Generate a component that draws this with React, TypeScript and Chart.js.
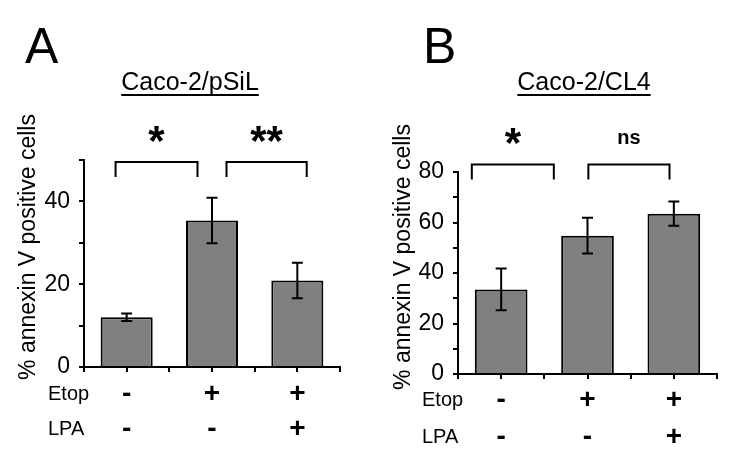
import React, { useEffect, useRef } from 'react';
import { Chart, registerables } from 'chart.js';

Chart.register(...registerables);

const FONT = '"Liberation Sans", Arial, Helvetica, sans-serif';

// ---- data ----
const categoryIndex = [0, 1, 2];
const etopLabels = ['-', '+', '+'];
const lpaLabels = ['-', '-', '+'];
const rowNames = ['Etop', 'LPA'];

const valuesA = [12.0, 35.4, 20.9];
const errorsA = [0.9, 5.5, 4.3];
const valuesB = [33.5, 54.8, 63.5];
const errorsB = [8.3, 7.1, 4.8];

const yMaxA = 50;
const yMaxB = 80;
const yLabelStep = 20;
const yMinorStep = 10;

const bracketFromA = [-0.13, 1.17];
const bracketToA = [0.83, 2.11];
const bracketMarksA = ['*', '**'];
const bracketLevelA = 49.5;

const bracketFromB = [-0.34, 1.01];
const bracketToB = [0.61, 1.95];
const bracketMarksB = ['*', 'ns'];
const bracketLevelB = 83.0;

const yTitle = '% annexin V positive cells';

type PanelSpec = {
  letter: string;
  letterX: number;
  title: string;
  titleCX: number;
  values: number[];
  errors: number[];
  yMax: number;
  padTop: number;
  padRight: number;
  yWidth: number;
  xHeight: number;
  tickPad: number;
  lineHeight: number;
  bracketFrom: number[];
  bracketTo: number[];
  bracketMarks: string[];
  bracketLevel: number;
  yTitleCX: number;
  yTitleCY: number;
  rowLabelX: number;
};

const panels: PanelSpec[] = [
  {
    letter: 'A', letterX: 25, title: 'Caco-2/pSiL', titleCX: 190,
    values: valuesA, errors: errorsA, yMax: yMaxA,
    padTop: 160, padRight: 35, yWidth: 84, xHeight: 108,
    tickPad: 5, lineHeight: 35 / 28,
    bracketFrom: bracketFromA, bracketTo: bracketToA, bracketMarks: bracketMarksA, bracketLevel: bracketLevelA,
    yTitleCX: 29, yTitleCY: 247, rowLabelX: 48,
  },
  {
    letter: 'B', letterX: 48, title: 'Caco-2/CL4', titleCX: 209,
    values: valuesB, errors: errorsB, yMax: yMaxB,
    padTop: 172, padRight: 33, yWidth: 83, xHeight: 101,
    tickPad: 3, lineHeight: 37 / 28,
    bracketFrom: bracketFromB, bracketTo: bracketToB, bracketMarks: bracketMarksB, bracketLevel: bracketLevelB,
    yTitleCX: 29, yTitleCY: 257, rowLabelX: 47,
  },
];

function makePlugin(spec: PanelSpec) {
  return {
    id: 'annot' + spec.letter,
    afterDatasetsDraw(chart: any) {
      const ctx = chart.ctx;
      const xs = chart.scales.x;
      const ys = chart.scales.y;
      ctx.save();
      ctx.strokeStyle = '#000';
      ctx.lineWidth = 2;
      spec.values.forEach((v, i) => {
        const px = xs.getPixelForValue(categoryIndex[i]);
        const top = ys.getPixelForValue(v + spec.errors[i]);
        const bot = ys.getPixelForValue(v - spec.errors[i]);
        ctx.beginPath();
        ctx.moveTo(px, top);
        ctx.lineTo(px, bot);
        ctx.moveTo(px - 5.5, top);
        ctx.lineTo(px + 5.5, top);
        ctx.moveTo(px - 5.5, bot);
        ctx.lineTo(px + 5.5, bot);
        ctx.stroke();
      });
      ctx.restore();
    },
    afterDraw(chart: any) {
      const ctx = chart.ctx;
      const xs = chart.scales.x;
      const ys = chart.scales.y;
      const area = chart.chartArea;
      ctx.save();
      ctx.fillStyle = '#000';
      ctx.strokeStyle = '#000';

      // panel letter
      ctx.font = `50px ${FONT}`;
      ctx.textAlign = 'left';
      ctx.textBaseline = 'alphabetic';
      ctx.fillText(spec.letter, spec.letterX, 63);

      // title, underlined
      ctx.font = `25px ${FONT}`;
      ctx.textAlign = 'center';
      ctx.fillText(spec.title, spec.titleCX, 90);
      const tw = ctx.measureText(spec.title).width;
      ctx.lineWidth = 2;
      ctx.beginPath();
      ctx.moveTo(spec.titleCX - tw / 2, 95);
      ctx.lineTo(spec.titleCX + tw / 2, 95);
      ctx.stroke();

      // y title
      ctx.save();
      ctx.translate(spec.yTitleCX, spec.yTitleCY);
      ctx.rotate(-Math.PI / 2);
      ctx.font = `23px ${FONT}`;
      ctx.textAlign = 'center';
      ctx.textBaseline = 'middle';
      ctx.fillText(yTitle, 0, 0);
      ctx.restore();

      // row names
      const lh = 28 * spec.lineHeight;
      ctx.font = `20px ${FONT}`;
      ctx.textAlign = 'left';
      ctx.textBaseline = 'middle';
      rowNames.forEach((name, r) => {
        const yy = area.bottom + 5 + spec.tickPad + lh / 2 + r * lh;
        ctx.fillText(name, spec.rowLabelX, yy);
      });

      // brackets
      const step = xs.getPixelForValue(1) - xs.getPixelForValue(0);
      const x0 = xs.getPixelForValue(0);
      const by = ys.getPixelForValue(spec.bracketLevel);
      ctx.lineWidth = 2;
      spec.bracketFrom.forEach((f, i) => {
        const xa = x0 + f * step;
        const xb = x0 + spec.bracketTo[i] * step;
        ctx.beginPath();
        ctx.moveTo(xa, by + 15);
        ctx.lineTo(xa, by);
        ctx.lineTo(xb, by);
        ctx.lineTo(xb, by + 15);
        ctx.stroke();
        const mark = spec.bracketMarks[i];
        const isStar = mark.indexOf('*') >= 0;
        ctx.font = isStar ? `bold 42px ${FONT}` : `bold 20px ${FONT}`;
        ctx.textAlign = 'center';
        ctx.textBaseline = 'alphabetic';
        const m = ctx.measureText(mark);
        const desc = m.actualBoundingBoxDescent || 0;
        const baseline = by - 20 - desc;
        ctx.fillText(mark, (xa + xb) / 2, baseline);
      });

      ctx.restore();
    },
  };
}

function Panel({ spec }: { spec: PanelSpec }) {
  const ref = useRef<HTMLCanvasElement | null>(null);
  useEffect(() => {
    if (!ref.current) return;
    const chart = new Chart(ref.current, {
      type: 'bar',
      data: {
        datasets: [
          {
            data: spec.values.map((v, i) => ({ x: categoryIndex[i], y: v })),
            backgroundColor: '#808080',
            borderColor: '#000000',
            borderWidth: 2,
            // ticks every half category, so 1.22 of a tick gap = 0.61 of a category
            barPercentage: 1.22,
            categoryPercentage: 1,
          },
        ],
      },
      options: {
        animation: false,
        responsive: false,
        layout: { padding: { left: 0, top: spec.padTop, right: spec.padRight, bottom: 0 } },
        plugins: { legend: { display: false }, tooltip: { enabled: false } },
        scales: {
          x: {
            type: 'linear',
            min: -0.5,
            max: 2.5,
            offset: false,
            afterFit: (s: any) => { s.height = spec.xHeight; },
            grid: { offset: false, drawOnChartArea: false, drawTicks: true, tickLength: 5, color: '#000', lineWidth: 2 },
            border: { display: true, color: '#000', width: 2 },
            ticks: {
              stepSize: 0.5,
              autoSkip: false,
              maxRotation: 0,
              padding: spec.tickPad,
              color: '#000',
              font: { family: FONT, size: 28, weight: 'bold', lineHeight: spec.lineHeight },
              callback: (v: any) => {
                const n = Number(v);
                const i = Math.round(n);
                if (Math.abs(n - i) < 1e-6 && i >= 0 && i < categoryIndex.length) {
                  return [etopLabels[i], lpaLabels[i]];
                }
                return '';
              },
            },
          },
          y: {
            type: 'linear',
            min: 0,
            max: spec.yMax,
            afterFit: (s: any) => { s.width = spec.yWidth; },
            grid: { drawOnChartArea: false, drawTicks: true, tickLength: 5, color: '#000', lineWidth: 2 },
            border: { display: true, color: '#000', width: 2 },
            ticks: {
              stepSize: yMinorStep,
              autoSkip: false,
              padding: 9,
              color: '#000',
              font: { family: FONT, size: 23 },
              callback: (v: any) => (Number(v) % yLabelStep === 0 ? String(v) : ''),
            },
          },
        },
      },
      plugins: [makePlugin(spec)],
    } as any);
    return () => chart.destroy();
  }, [spec]);
  return <canvas ref={ref} width={375} height={475} style={{ display: 'block', width: 375, height: 475 }} />;
}

export default function App() {
  return (
    <div style={{ position: 'absolute', left: 0, top: 0, width: 750, height: 475, display: 'flex', background: '#fff' }}>
      {panels.map((p) => (
        <Panel key={p.letter} spec={p} />
      ))}
    </div>
  );
}
